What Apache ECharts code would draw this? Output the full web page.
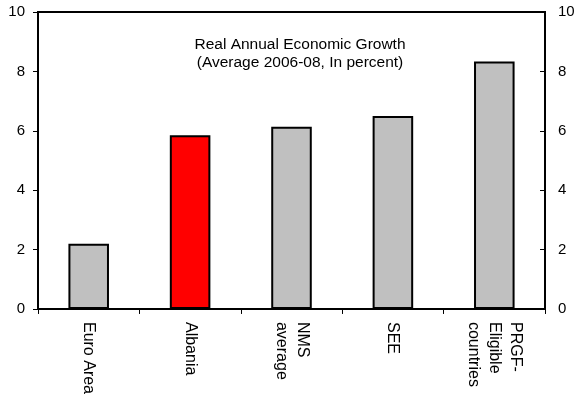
<!DOCTYPE html>
<html>
<head>
<meta charset="utf-8">
<script src="https://cdn.jsdelivr.net/npm/echarts@6/dist/echarts.min.js"></script>
<style>
html,body{margin:0;padding:0;background:#fff;}
#c{width:579px;height:397px;}
</style>
</head>
<body>
<div id="c"></div>
<script>
var categories = ['Euro Area', 'Albania', 'NMS\naverage', 'SEE', 'PRGF-\nEligible\ncountries'];
var growth = [2.2, 5.85, 6.14, 6.5, 8.33];
var barColors = ['#c0c0c0', '#ff0000', '#c0c0c0', '#c0c0c0', '#c0c0c0'];
var yTicks = [0, 2, 4, 6, 8, 10];
var titleLines = ['Real Annual Economic Growth', '(Average 2006-08, In percent)'];

var font = 'Liberation Sans, Arial, sans-serif';
var chart = echarts.init(document.getElementById('c'), null, {renderer: 'canvas'});
var yAxisBase = {
  type: 'value', min: yTicks[0], max: yTicks[yTicks.length - 1], interval: 2,
  axisLine: {show: true, lineStyle: {color: '#000', width: 2}},
  axisTick: {show: true, length: 5, lineStyle: {color: '#000', width: 1}},
  splitLine: {show: false},
  axisLabel: {color: '#000', fontSize: 15, fontFamily: font, margin: 13}
};
chart.setOption({
  animation: false,
  title: {
    text: titleLines.join('\n'),
    left: 295, top: 31, textAlign: 'center',
    textStyle: {fontSize: 15.5, fontWeight: 'normal', color: '#000', fontFamily: font, lineHeight: 18}
  },
  grid: {left: 38, right: 34, top: 12, bottom: 88, show: true, borderColor: '#000', borderWidth: 2, backgroundColor: 'transparent'},
  xAxis: {
    type: 'category', data: categories,
    axisLine: {show: true, lineStyle: {color: '#000', width: 2}},
    axisTick: {show: true, length: 5, lineStyle: {color: '#000', width: 1}},
    axisLabel: {rotate: -90, color: '#000', fontSize: 16, fontFamily: font, margin: 13, lineHeight: 21, interval: 0}
  },
  yAxis: [
    Object.assign({}, yAxisBase, {position: 'left'}),
    Object.assign({}, yAxisBase, {position: 'right', axisTick: {show: true, inside: true, length: 5, lineStyle: {color: '#000', width: 1}}})
  ],
  series: [{
    type: 'bar', yAxisIndex: 0, barWidth: '40%',
    data: growth.map(function (v, i) {
      return {value: v, itemStyle: {color: barColors[i], borderColor: '#000', borderWidth: 2}};
    })
  }]
});
</script>
</body>
</html>
